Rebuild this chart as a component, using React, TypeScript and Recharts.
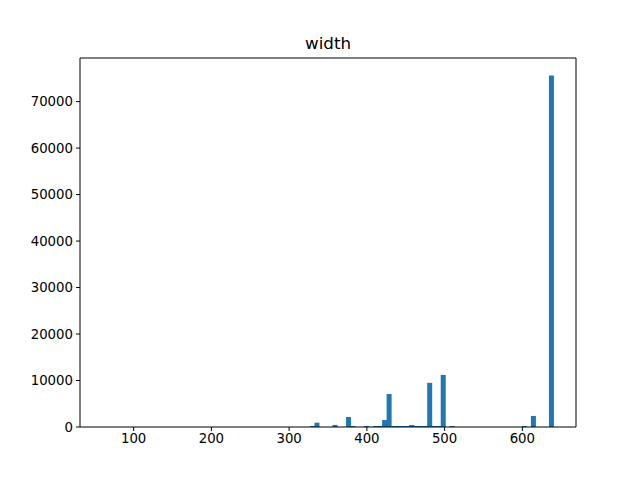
import { ComposedChart, Bar, XAxis, YAxis, CartesianGrid } from 'recharts';

// histogram of "width": 100 bins over [60, 640], only non-empty bins listed
const BIN_WIDTH = 5.8;
const binStarts = [
  326.8, 332.6, 355.8, 373.2, 379.0, 396.4, 408.0, 413.8, 419.6, 425.4,
  431.2, 437.0, 442.8, 448.6, 454.4, 460.2, 466.0, 471.8, 477.6, 483.4,
  489.2, 495.0, 506.6, 599.4, 611.0, 634.2,
];
const counts = [
  220, 930, 450, 2150, 220, 220, 220, 220, 1500, 7090,
  220, 220, 220, 220, 430, 220, 220, 220, 9500, 220,
  220, 11200, 220, 220, 2380, 75600,
];
const xTicks = [100, 200, 300, 400, 500, 600];
const yTicks = [0, 10000, 20000, 30000, 40000, 50000, 60000, 70000];

const data = binStarts.map((s, i) => ({ x: s + BIN_WIDTH / 2, count: counts[i] }));

const FONT = 'DejaVu Sans, sans-serif';
const tickStyle = { fontSize: 13.3, fill: '#000', fontFamily: FONT };
const X_DOMAIN: [number, number] = [31, 669];
const Y_DOMAIN: [number, number] = [0, 79380];

export default function App() {
  return (
    <div style={{ position: 'absolute', left: 0, top: 0, width: 640, height: 480, background: '#fff' }}>
      <div
        style={{
          position: 'absolute', left: 80, width: 496, top: 33, textAlign: 'center',
          fontFamily: FONT, fontSize: 16.7, color: '#000', lineHeight: '20px',
        }}
      >
        width
      </div>
      <ComposedChart
        width={640}
        height={480}
        data={data}
        margin={{ top: 58, right: 64, bottom: 23, left: 10 }}
        barCategoryGap={0}
        barGap={0}
      >
        {/* top and right spines */}
        <CartesianGrid
          horizontalValues={[Y_DOMAIN[1]]}
          verticalValues={[X_DOMAIN[1]]}
          stroke="#000"
          strokeOpacity={1}
        />
        <XAxis
          dataKey="x"
          type="number"
          domain={X_DOMAIN}
          allowDataOverflow
          ticks={xTicks}
          tick={tickStyle}
          tickSize={4}
          tickMargin={3}
          height={30}
          stroke="#000"
          tickLine={{ stroke: '#000' }}
        />
        <YAxis
          type="number"
          domain={Y_DOMAIN}
          allowDataOverflow
          ticks={yTicks}
          tick={tickStyle}
          tickSize={4}
          tickMargin={3}
          width={70}
          stroke="#000"
          tickLine={{ stroke: '#000' }}
        />
        <Bar dataKey="count" fill="#1f77b4" isAnimationActive={false} />
      </ComposedChart>
    </div>
  );
}
